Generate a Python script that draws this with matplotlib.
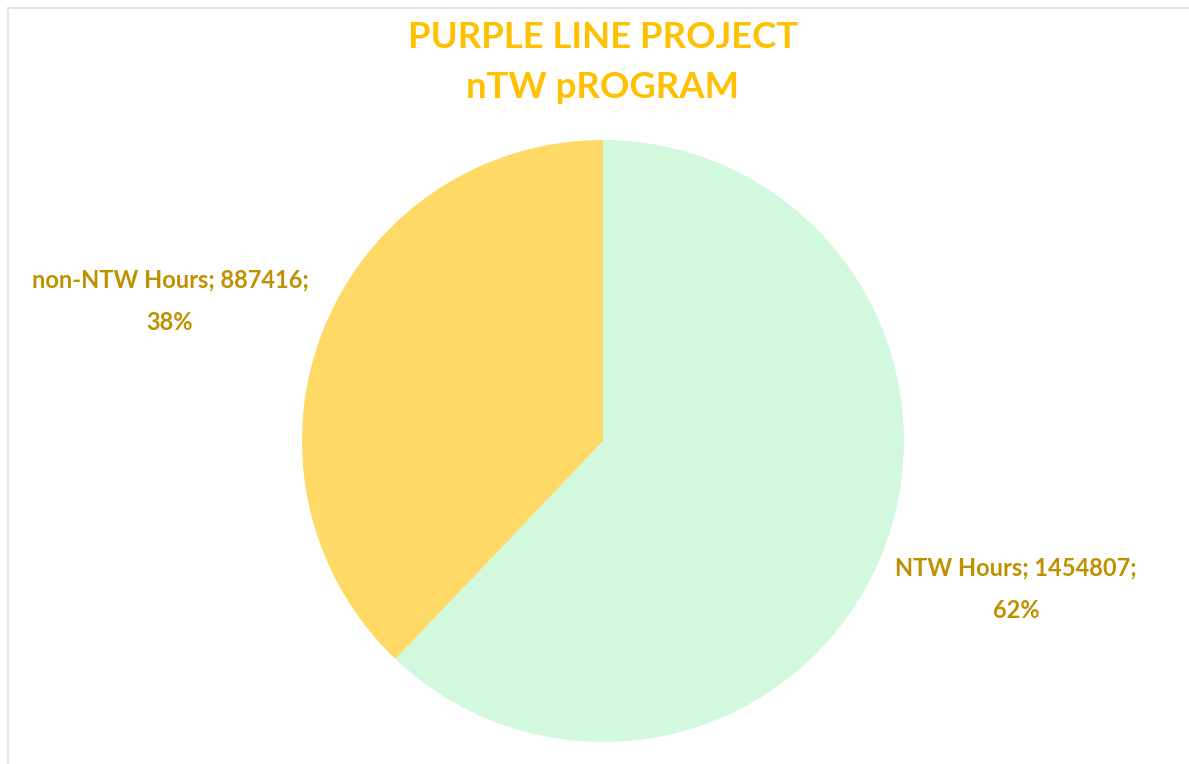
import matplotlib.pyplot as plt
from matplotlib.lines import Line2D

# --- data
categories = ["NTW Hours", "non-NTW Hours"]
hours = [1454807, 887416]
colors = ["#D2F9DD", "#FFD966"]
title_lines = ["PURPLE LINE PROJECT", "nTW pROGRAM"]

W, H = 1189, 764
fig = plt.figure(figsize=(W / 100, H / 100), dpi=100)
fig.patch.set_facecolor("white")

# --- faint frame (top and left edge of the screenshot)
fig.add_artist(Line2D([8 / W, 1], [1 - 8 / H, 1 - 8 / H], color="#E6E6E6", lw=1.5))
fig.add_artist(Line2D([8 / W, 8 / W], [0, 1 - 8 / H], color="#E6E6E6", lw=1.5))

# --- pie
cx, cy, r = 603, 441, 301
ax = fig.add_axes([(cx - r) / W, (H - cy - r) / H, 2 * r / W, 2 * r / H])
ax.pie(hours, colors=colors, startangle=90, counterclock=False,
       wedgeprops=dict(linewidth=0))
ax.set_xlim(-1, 1)
ax.set_ylim(-1, 1)
ax.set_aspect("equal")
ax.axis("off")

# --- title
font = "Lato"
fig.text(603 / W, 1 - 37 / H, title_lines[0], ha="center", va="center",
         fontsize=26.3, fontweight="bold", color="#FFC000", family=font)
fig.text(603 / W, 1 - 88 / H, title_lines[1], ha="center", va="center",
         fontsize=26.3, fontweight="bold", color="#FFC000", family=font)

# --- data labels
total = sum(hours)
label_pos = [(1016, 589), (170, 301)]
for name, val, (x, y) in zip(categories, hours, label_pos):
    pct = round(100 * val / total)
    fig.text(x / W, 1 - y / H, f"{name}; {val};\n{pct}%", ha="center", va="center",
             fontsize=17, fontweight="bold", color="#BF9000", family=font,
             linespacing=2.0)

fig.savefig("out.png", dpi=100, facecolor="white")
